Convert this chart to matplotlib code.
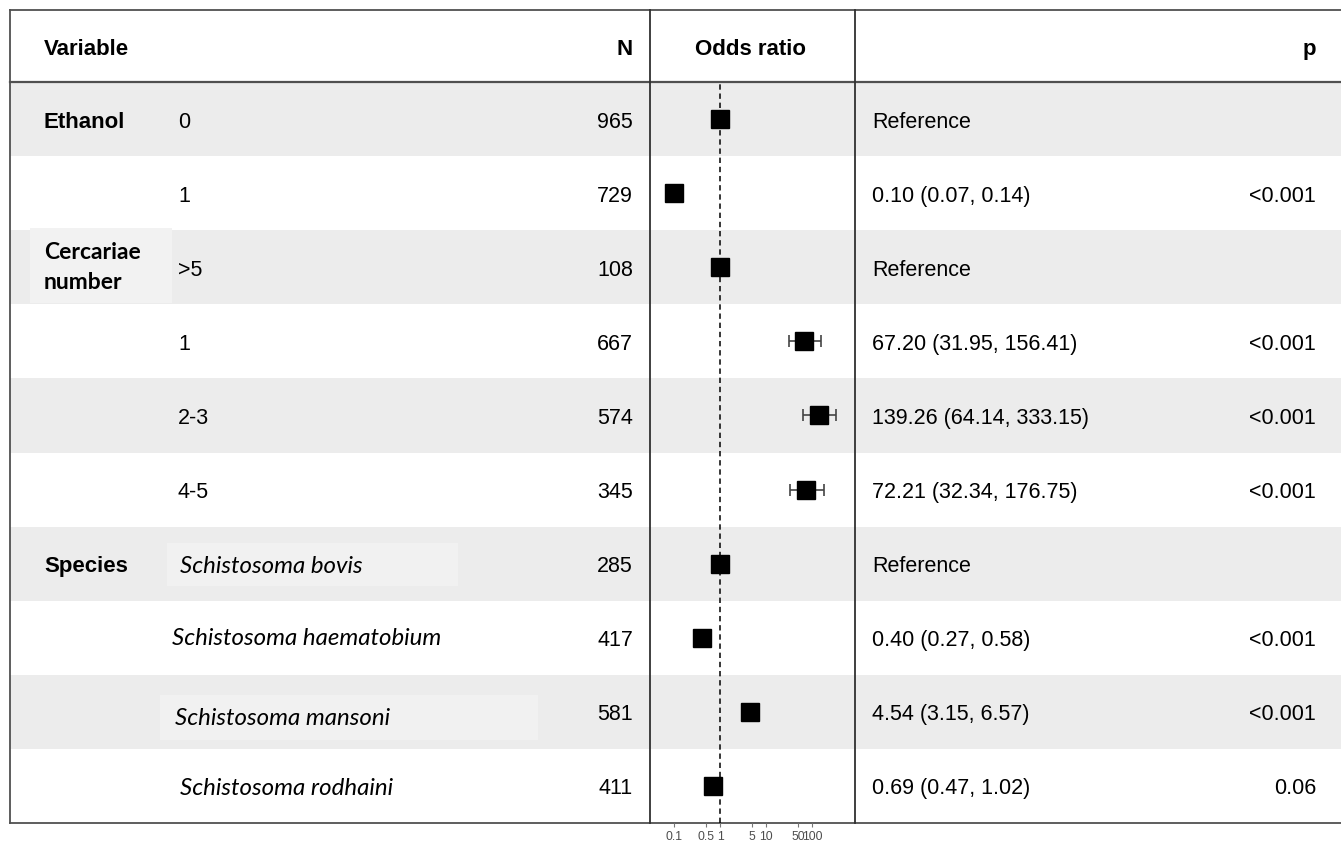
import numpy as np
import matplotlib
matplotlib.use("Agg")
import matplotlib.pyplot as plt
from matplotlib.patches import Rectangle

# ---------------- data ----------------
variables = ["Ethanol", "", "Cercariae\nnumber", "", "", "", "Species", "", "", ""]
levels = ["0", "1", ">5", "1", "2-3", "4-5",
          "Schistosoma bovis", "Schistosoma haematobium",
          "Schistosoma mansoni", "Schistosoma rodhaini"]
n_obs = [965, 729, 108, 667, 574, 345, 285, 417, 581, 411]
odds = [1.0, 0.10, 1.0, 67.20, 139.26, 72.21, 1.0, 0.40, 4.54, 0.69]
ci_low = [np.nan, 0.07, np.nan, 31.95, 64.14, 32.34, np.nan, 0.27, 3.15, 0.47]
ci_high = [np.nan, 0.14, np.nan, 156.41, 333.15, 176.75, np.nan, 0.58, 6.57, 1.02]
is_reference = [True, False, True, False, False, False, True, False, False, False]
p_values = ["", "<0.001", "", "<0.001", "<0.001", "<0.001", "", "<0.001", "<0.001", "0.06"]
xticks = [0.1, 0.5, 1, 5, 10, 50, 100]
xtick_labels = ["0.1", "0.5", "1", "5", "10", "50", "100"]
headers = ["Variable", "N", "Odds ratio", "p"]

# ---------------- layout ----------------
W, H = 1341, 843
fig = plt.figure(figsize=(W / 100, H / 100), dpi=100)
ax = fig.add_axes([0, 0, 1, 1])
ax.set_xlim(0, W)
ax.set_ylim(H, 0)
ax.axis("off")

top, head_bot, bottom = 10, 82, 823
left, c1, c2 = 10, 650, 855
nrows = len(levels)
row_h = (bottom - head_bot) / nrows
row_grey = "#ececec"
line_c = "#505050"
FONT = "Liberation Sans"
FS = 15.5
DY = 3.0

def yc(i):
    return head_bot + row_h * (i + 0.5)

# row backgrounds
for i in range(nrows):
    if i % 2 == 0:
        ax.add_patch(Rectangle((left, head_bot + row_h * i), W - left, row_h,
                               facecolor=row_grey, edgecolor="none", zorder=0))

# subtle pasted label boxes
ax.add_patch(Rectangle((30, 228), 142, 75, facecolor="#f2f2f2", edgecolor="none", zorder=0.5))
ax.add_patch(Rectangle((167, 543), 291, 43, facecolor="#f1f1f1", edgecolor="none", zorder=0.5))
ax.add_patch(Rectangle((160, 695), 378, 45, facecolor="#f1f1f1", edgecolor="none", zorder=0.5))

# lines
ax.plot([left, W], [top, top], color=line_c, lw=1.3, zorder=2)
ax.plot([left, W], [head_bot, head_bot], color=line_c, lw=1.6, zorder=2)
ax.plot([left, W], [bottom, bottom], color=line_c, lw=1.3, zorder=2)
ax.plot([left, left], [top, bottom], color=line_c, lw=1.3, zorder=2)
ax.plot([c1, c1], [top, bottom], color="#303030", lw=1.3, zorder=2)
ax.plot([c2, c2], [top, bottom], color="#303030", lw=1.3, zorder=2)

# headers
hy = (top + head_bot) / 2 + DY + 0.5
HFS = 16
ax.text(44, hy, headers[0], fontsize=HFS, fontweight="bold", family=FONT, va="center", ha="left")
ax.text(633, hy, headers[1], fontsize=HFS, fontweight="bold", family=FONT, va="center", ha="right")
ax.text(751, hy, headers[2], fontsize=HFS, fontweight="bold", family=FONT, va="center", ha="center")
ax.text(1316, hy, headers[3], fontsize=HFS, fontweight="bold", family=FONT, va="center", ha="right")

species_x = [180, 172, 175, 180]
species_dy = [3, 1, 7, 3]
for i in range(nrows):
    y = yc(i) + DY
    v = variables[i]
    if v:
        if "\n" in v:
            ax.text(44, yc(i) + 0.5, v, fontsize=16.5, fontweight="bold", family="Lato",
                    va="center", ha="left", linespacing=1.55)
        else:
            ax.text(44, y, v, fontsize=HFS, fontweight="bold", family=FONT, va="center", ha="left")
    lv = levels[i]
    if lv.startswith("Schistosoma"):
        k = i - 6
        ax.text(species_x[k], yc(i) + species_dy[k], lv, fontsize=17.3, style="italic",
                family="Lato", va="center", ha="left")
    else:
        ax.text(178, y, lv, fontsize=FS, family=FONT, va="center", ha="left")
    ax.text(633, y, str(n_obs[i]), fontsize=FS, family=FONT, va="center", ha="right")
    if is_reference[i]:
        est = "Reference"
    else:
        est = f"{odds[i]:.2f} ({ci_low[i]:.2f}, {ci_high[i]:.2f})"
    ax.text(872, y, est, fontsize=FS, family=FONT, va="center", ha="left")
    if p_values[i]:
        ax.text(1316, y, p_values[i], fontsize=FS, family=FONT, va="center", ha="right")

# ---------------- forest panel ----------------
fx = fig.add_axes([c1 / W, 1 - bottom / H, (c2 - c1) / W, (bottom - head_bot) / H])
fx.patch.set_alpha(0)
fx.set_xscale("log")
fx.set_xlim(10 ** -1.52, 10 ** 2.93)
fx.set_ylim(nrows - 0.5, -0.5)
for s in fx.spines.values():
    s.set_visible(False)
fx.set_yticks([])
fx.set_xticks(xticks)
fx.set_xticklabels(xtick_labels)
fx.xaxis.set_minor_locator(matplotlib.ticker.NullLocator())
fx.tick_params(axis="x", length=3.0, width=0.8, color="#777777", labelsize=8.8,
               labelcolor="#4d4d4d", pad=2.5)
for lab in fx.get_xticklabels():
    lab.set_family(FONT)

fx.axvline(1, color="black", lw=1.1, ls=(0, (3.5, 2.5)), zorder=1)

ypos = np.arange(nrows)
o = np.array(odds)
lo = np.array(ci_low)
hi = np.array(ci_high)
m = ~np.isnan(lo)
fx.errorbar(o[m], ypos[m], xerr=[o[m] - lo[m], hi[m] - o[m]], fmt="none",
            ecolor="#444444", elinewidth=1.2, capsize=4.6, capthick=1.2, zorder=2)
fx.plot(o, ypos, ls="none", marker="s", markersize=12.8, color="black", zorder=3)

fig.savefig("out.png", dpi=100)
